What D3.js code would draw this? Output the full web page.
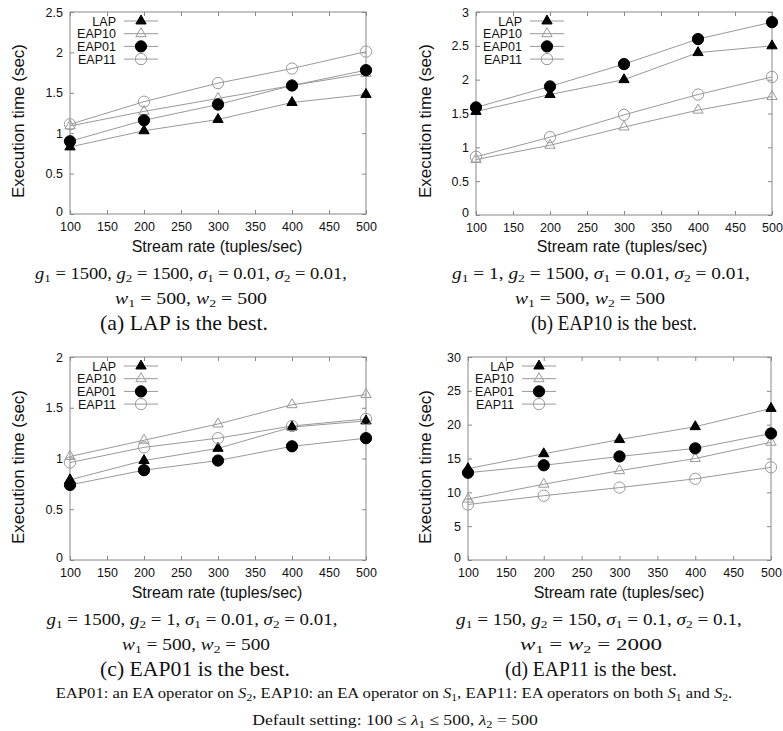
<!DOCTYPE html>
<html>
<head>
<meta charset="utf-8">
<script src="https://cdn.jsdelivr.net/npm/d3@7"></script>
<style>
  body { margin: 0; background: #fff; }
  svg text { font-family: "Liberation Sans", Arial, sans-serif; fill: #111; }
  svg text.cap { font-family: "Liberation Serif", "Times New Roman", serif; }
</style>
</head>
<body>
<svg id="chart" width="783" height="731"></svg>
<script>
// x values and tick labels shared by all four panels
var rates = [100, 200, 300, 400, 500];
var xTicks = [100, 150, 200, 250, 300, 350, 400, 450, 500];
var seriesNames = ["LAP", "EAP10", "EAP01", "EAP11"];

// (a) LAP is the best
var yTicksA = [0, 0.5, 1, 1.5, 2, 2.5];
var lapA   = [0.83, 1.03, 1.17, 1.38, 1.48];
var eap10A = [1.09, 1.27, 1.43, 1.59, 1.74];
var eap01A = [0.90, 1.16, 1.355, 1.59, 1.78];
var eap11A = [1.11, 1.39, 1.62, 1.80, 2.01];

// (b) EAP10 is the best
var yTicksB = [0, 0.5, 1, 1.5, 2, 2.5, 3];
var lapB   = [1.53, 1.78, 2.0, 2.40, 2.50];
var eap10B = [0.82, 1.03, 1.30, 1.55, 1.75];
var eap01B = [1.59, 1.90, 2.23, 2.60, 2.85];
var eap11B = [0.86, 1.15, 1.48, 1.78, 2.04];

// (c) EAP01 is the best
var yTicksC = [0, 0.5, 1, 1.5, 2];
var lapC   = [0.79, 0.98, 1.10, 1.31, 1.37];
var eap10C = [1.02, 1.18, 1.34, 1.53, 1.63];
var eap01C = [0.74, 0.885, 0.98, 1.12, 1.20];
var eap11C = [0.96, 1.11, 1.20, 1.32, 1.39];

// (d) EAP11 is the best
var yTicksD = [0, 5, 10, 15, 20, 25, 30];
var lapD   = [13.5, 15.7, 17.8, 19.7, 22.4];
var eap10D = [9.0, 11.2, 13.2, 15.0, 17.4];
var eap01D = [12.9, 14.0, 15.3, 16.5, 18.7];
var eap11D = [8.2, 9.5, 10.7, 12.0, 13.7];

// marker look per series (gnuplot style)
var markers = [
  {shape: d3.symbolTriangle, size: 46, fill: "#000", stroke: "#000"},
  {shape: d3.symbolTriangle, size: 46, fill: "none", stroke: "#999"},
  {shape: d3.symbolCircle, size: 100, fill: "#000", stroke: "#000"},
  {shape: d3.symbolCircle, size: 100, fill: "none", stroke: "#999"}
];

var panels = [
  {left: 70, right: 366, top: 12, bottom: 214, yTicks: yTicksA, data: [lapA, eap10A, eap01A, eap11A],
   yTitleX: 18, xTitleX: 217, base: 0,
   caps: [["g_1 = 1500, g_2 = 1500, σ_1 = 0.01, σ_2 = 0.01,", 191, 312],
          ["w_1 = 500, w_2 = 500", 191, 152],
          ["(a) LAP is the best.", 184, 168, true]]},
  {left: 476, right: 772, top: 12, bottom: 215, yTicks: yTicksB, data: [lapB, eap10B, eap01B, eap11B],
   yTitleX: 425, xTitleX: 622, base: 0,
   caps: [["g_1 = 1, g_2 = 1500, σ_1 = 0.01, σ_2 = 0.01,", 601, 298],
          ["w_1 = 500, w_2 = 500", 590, 150],
          ["(b) EAP10 is the best.", 614, 166, true]]},
  {left: 70, right: 366, top: 357, bottom: 560, yTicks: yTicksC, data: [lapC, eap10C, eap01C, eap11C],
   yTitleX: 18, xTitleX: 217, base: 346,
   caps: [["g_1 = 1500, g_2 = 1, σ_1 = 0.01, σ_2 = 0.01,", 192, 291],
          ["w_1 = 500, w_2 = 500", 196, 148],
          ["(c) EAP01 is the best.", 195, 190, true]]},
  {left: 468, right: 771, top: 357, bottom: 560, yTicks: yTicksD, data: [lapD, eap10D, eap01D, eap11D],
   yTitleX: 425, xTitleX: 619, base: 346,
   caps: [["g_1 = 150, g_2 = 150, σ_1 = 0.1, σ_2 = 0.1,", 599, 286],
          ["w_1 = w_2 = 2000", 591, 142],
          ["(d) EAP11 is the best.", 591, 172, true]]}
];

var svg = d3.select("#chart");

// writes a LaTeX-ish string: x_1 -> italic x with subscript 1
function richText(sel, str) {
  var re = /([A-Za-zσλ])_(\d)/g, last = 0, m, pending = 0;
  function plain(t) {
    if (!t) return;
    var ts = sel.append("tspan").text(t);
    if (pending) { ts.attr("dy", pending); pending = 0; }
  }
  while ((m = re.exec(str)) !== null) {
    plain(str.slice(last, m.index));
    var it = sel.append("tspan").attr("font-style", "italic").text(m[1]);
    if (pending) { it.attr("dy", pending); pending = 0; }
    sel.append("tspan").attr("font-size", "0.7em").attr("dy", 3).text(m[2]);
    pending = -3;
    last = re.lastIndex;
  }
  plain(str.slice(last));
}

// centred text squeezed/stretched to the width seen in the picture
function fitText(str, cx, y, width, size) {
  var t = svg.append("text").attr("class", "cap")
      .attr("x", 0).attr("y", 0)
      .attr("text-anchor", "middle")
      .style("font-size", size + "px");
  richText(t, str);
  var w = t.node().getBBox().width;
  t.attr("transform", "translate(" + cx + "," + y + ") scale(" + (width / w) + ",1)");
}

function drawPanel(p) {
  var x = d3.scaleLinear().domain([100, 500]).range([p.left, p.right]);
  var y = d3.scaleLinear().domain([0, d3.max(p.yTicks)]).range([p.bottom, p.top]);
  var g = svg.append("g");

  // axes, ticks pointing inward on all four sides
  var bottom = g.append("g").attr("transform", "translate(0," + p.bottom + ")")
      .call(d3.axisBottom(x).tickValues(xTicks).tickSize(-4).tickPadding(8).tickFormat(d3.format("d")));
  var top = g.append("g").attr("transform", "translate(0," + p.top + ")")
      .call(d3.axisTop(x).tickValues(xTicks).tickSize(-4).tickFormat(""));
  var left = g.append("g").attr("transform", "translate(" + p.left + ",0)")
      .call(d3.axisLeft(y).tickValues(p.yTicks).tickSize(-4).tickPadding(7).tickFormat(d3.format("~g")));
  var right = g.append("g").attr("transform", "translate(" + p.right + ",0)")
      .call(d3.axisRight(y).tickValues(p.yTicks).tickSize(-4).tickFormat(""));

  [bottom, top, left, right].forEach(function(a) {
    a.select(".domain").remove();
    a.selectAll(".tick line").attr("stroke", "#888");
    a.selectAll(".tick text").style("font-size", "12.5px").attr("fill", "#111")
      .style("font-family", '"Liberation Sans", Arial, sans-serif');
  });
  // lowest y label sits a little above the corner, as in the picture
  left.selectAll(".tick text").filter(function(d) { return d === 0; }).attr("dy", "0.1em");

  g.append("rect")
      .attr("x", p.left).attr("y", p.top)
      .attr("width", p.right - p.left).attr("height", p.bottom - p.top)
      .attr("fill", "none").attr("stroke", "#888").attr("stroke-width", 1);

  // axis titles
  g.append("text")
      .attr("text-anchor", "middle")
      .attr("transform", "translate(" + p.yTitleX + "," + (121 + p.base) + ")rotate(-90)")
      .attr("dy", "0.35em")
      .style("font-size", "17px")
      .text("Execution time (sec)");
  g.append("text")
      .attr("text-anchor", "middle")
      .attr("x", p.xTitleX).attr("y", 252 + p.base)
      .style("font-size", "16px")
      .text("Stream rate (tuples/sec)");

  // data lines
  var line = d3.line()
      .x(function(d, i) { return x(rates[i]); })
      .y(function(d) { return y(d); });
  p.data.forEach(function(vals) {
    g.append("path").datum(vals)
        .attr("d", line)
        .attr("fill", "none").attr("stroke", "#999").attr("stroke-width", 1);
  });

  // data points
  p.data.forEach(function(vals, s) {
    var mk = markers[s];
    g.append("g").selectAll("path")
        .data(vals)
        .enter()
        .append("path")
        .attr("d", d3.symbol().type(mk.shape).size(mk.size))
        .attr("transform", function(d, i) { return "translate(" + x(rates[i]) + "," + y(d) + ")"; })
        .attr("fill", mk.fill).attr("stroke", mk.stroke).attr("stroke-width", 1);
  });

  // legend
  seriesNames.forEach(function(name, s) {
    var ly = p.top + 9 + s * 12.7;
    g.append("text")
        .attr("x", p.left + 46).attr("y", ly).attr("dy", "0.36em")
        .attr("text-anchor", "end")
        .style("font-size", "12.5px")
        .text(name);
    g.append("line")
        .attr("x1", p.left + 54).attr("x2", p.left + 88)
        .attr("y1", ly).attr("y2", ly)
        .attr("stroke", "#999");
    var mk = markers[s];
    g.append("path")
        .attr("d", d3.symbol().type(mk.shape).size(mk.size))
        .attr("transform", "translate(" + (p.left + 71) + "," + ly + ")")
        .attr("fill", mk.fill).attr("stroke", mk.stroke);
  });

  // captions under the panel
  var capY = [279, 304, 330];
  p.caps.forEach(function(c, i) {
    fitText(c[0], c[1], capY[i] + p.base, c[2], c[3] ? 22 : 16);
  });
}

panels.forEach(drawPanel);

fitText("EAP01: an EA operator on S_2, EAP10: an EA operator on S_1, EAP11: EA operators on both S_1 and S_2.",
        394, 698, 677, 15);
fitText("Default setting: 100 ≤ λ_1 ≤ 500, λ_2 = 500", 395, 725, 286, 15);
</script>
</body>
</html>
